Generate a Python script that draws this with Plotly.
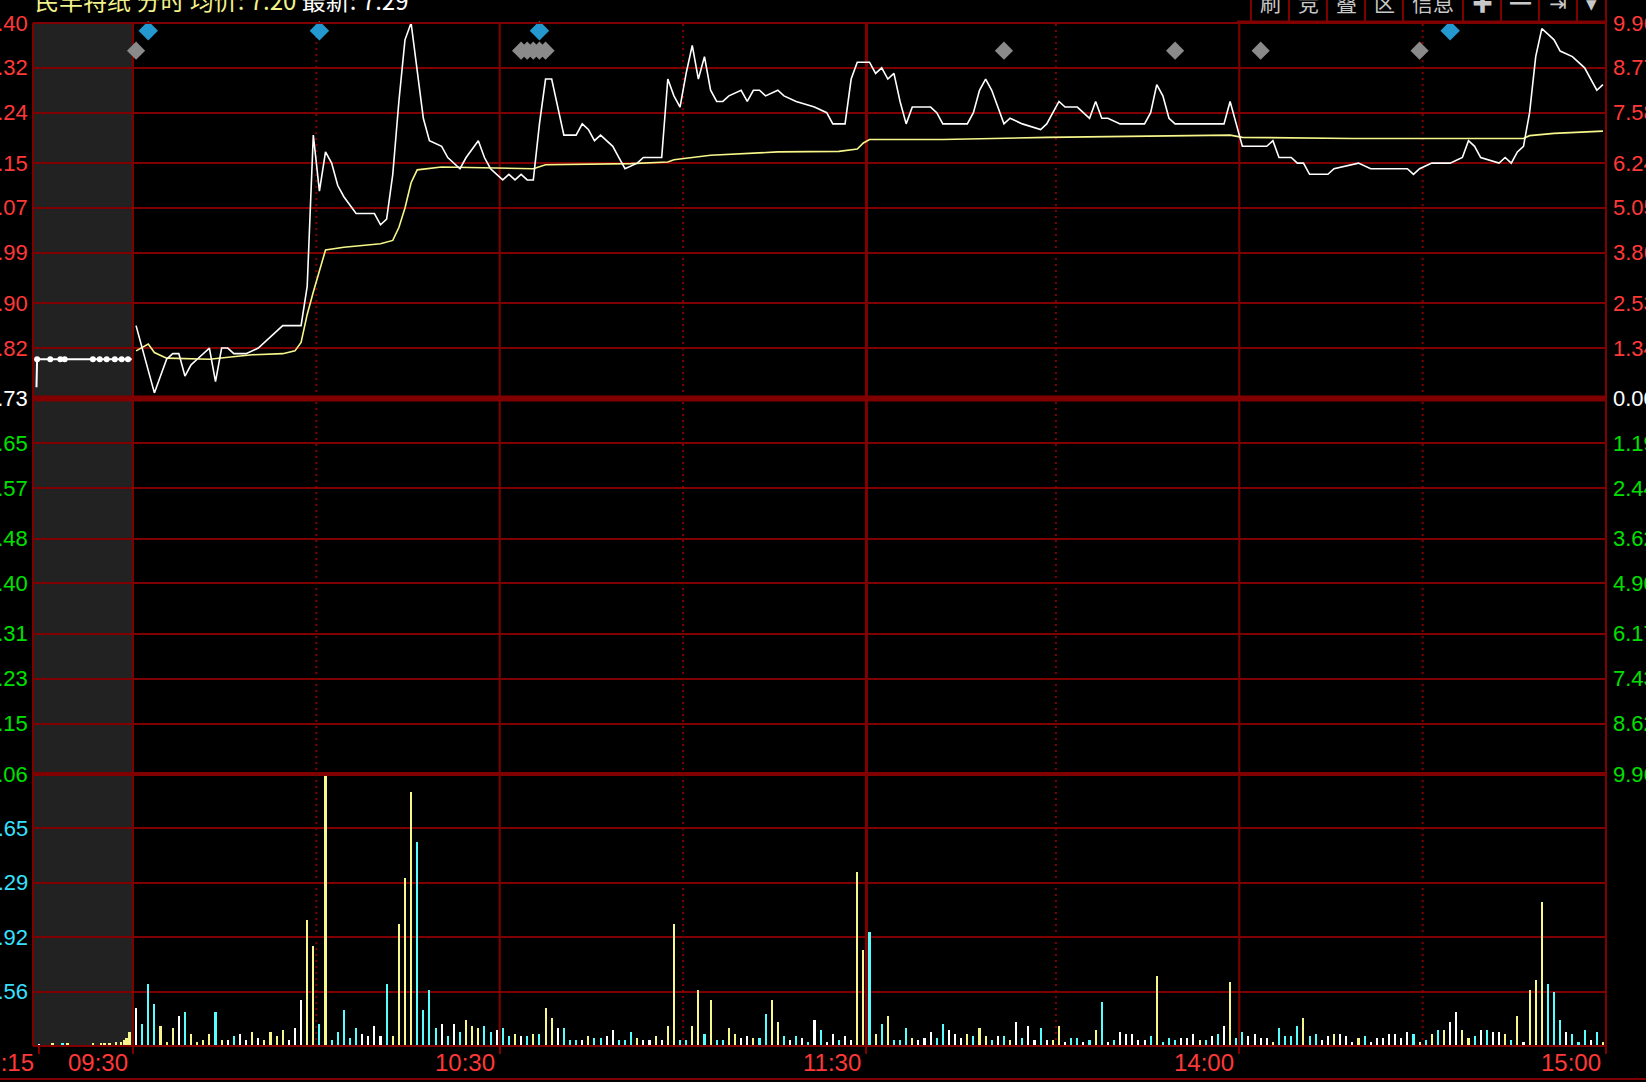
import plotly.graph_objects as go

# ---------------- data ----------------
stock_name = "民丰特纸"
view_name = "分时"
avg_price_text = "7.20"
last_price_text = "7.29"
prev_close = 6.73

price_ticks = [7.40, 7.32, 7.24, 7.15, 7.07, 6.99, 6.90, 6.82, 6.73,
               6.65, 6.57, 6.48, 6.40, 6.31, 6.23, 6.15, 6.06]
price_tick_labels = ["7.40", "7.32", "7.24", "7.15", "7.07", "6.99", "6.90", "6.82", "6.73",
                     "6.65", "6.57", "6.48", "6.40", "6.31", "6.23", "6.15", "6.06"]
pct_tick_labels = ["9.96%", "8.77%", "7.58%", "6.24%", "5.05%", "3.86%", "2.53%", "1.34%", "0.00%",
                   "1.19%", "2.44%", "3.62%", "4.90%", "6.17%", "7.43%", "8.62%", "9.96%"]

vol_range = [20, 17201]
vol_ticks = [3456, 6892, 10329, 13765]
vol_tick_labels = ["34.56", "68.92", "103.29", "137.65"]

time_ticks = ["09:15", "09:30", "10:30", "11:30", "14:00", "15:00"]
solid_lines = ["09:30", "10:30", "11:30", "14:00"]
dotted_lines = ["10:00", "11:00", "13:30", "14:30"]

# minute index (0 = 09:30 ... 240 = 15:00) and last price
price_idx = [0, 1, 2, 3, 4, 5, 6, 7, 8, 9, 10, 11, 12, 13, 14, 15, 16, 18, 20, 24, 27, 28, 29, 30,
             31, 32, 33, 34, 36, 39, 40, 41, 42, 43, 44, 45, 46, 47, 48, 50, 51, 53, 54, 56, 57, 58,
             60, 61, 62, 63, 64, 65, 66, 67, 68, 69, 70, 72, 73, 74, 75, 76, 78, 79, 80, 82, 83, 86,
             87, 88, 89, 90, 91, 92, 93, 94, 95, 96, 97, 99, 100, 101, 102, 103, 105, 106, 108, 111,
             113, 114, 116, 117, 118, 120, 121, 122, 123, 124, 125, 126, 127, 130, 131, 132, 136, 137,
             138, 139, 140, 141, 142, 143, 145, 148, 149, 151, 152, 154, 155, 156, 157, 158, 159, 161,
             165, 166, 167, 168, 169, 170, 178, 179, 180, 181, 185, 186, 187, 189, 190, 191, 192, 195,
             196, 200, 202, 208, 209, 210, 212, 215, 217, 218, 219, 220, 223, 224, 225, 226, 227, 228,
             229, 230, 231, 232, 233, 235, 237, 238, 239, 240]
price_val = [6.86, 6.82, 6.78, 6.74, 6.77, 6.80, 6.81, 6.81, 6.77, 6.79, 6.80, 6.81, 6.82, 6.76, 6.82,
             6.82, 6.81, 6.81, 6.82, 6.86, 6.86, 6.93, 7.20, 7.10, 7.17, 7.15, 7.11, 7.09, 7.06, 7.06,
             7.04, 7.05, 7.13, 7.26, 7.37, 7.40, 7.32, 7.23, 7.19, 7.18, 7.16, 7.14, 7.16, 7.19, 7.16,
             7.14, 7.12, 7.13, 7.12, 7.13, 7.12, 7.12, 7.22, 7.30, 7.30, 7.25, 7.20, 7.20, 7.22, 7.21,
             7.19, 7.20, 7.18, 7.16, 7.14, 7.15, 7.16, 7.16, 7.30, 7.27, 7.25, 7.31, 7.36, 7.30, 7.34,
             7.28, 7.26, 7.26, 7.27, 7.28, 7.26, 7.28, 7.28, 7.27, 7.28, 7.27, 7.26, 7.25, 7.24, 7.22,
             7.22, 7.30, 7.33, 7.33, 7.31, 7.32, 7.30, 7.31, 7.26, 7.22, 7.25, 7.25, 7.24, 7.22, 7.22,
             7.24, 7.28, 7.30, 7.28, 7.25, 7.22, 7.23, 7.22, 7.21, 7.22, 7.26, 7.25, 7.25, 7.24, 7.23,
             7.26, 7.23, 7.23, 7.22, 7.22, 7.24, 7.29, 7.27, 7.23, 7.22, 7.22, 7.26, 7.22, 7.18, 7.18,
             7.19, 7.16, 7.16, 7.15, 7.15, 7.13, 7.13, 7.14, 7.15, 7.14, 7.14, 7.13, 7.14, 7.15, 7.15,
             7.16, 7.19, 7.18, 7.16, 7.15, 7.16, 7.15, 7.17, 7.18, 7.24, 7.34, 7.39, 7.38, 7.37, 7.35,
             7.34, 7.32, 7.30, 7.28, 7.29]

avg_idx = [0, 2, 3, 5, 12, 19, 24, 26, 27, 28, 29, 30, 31, 34, 40, 42, 43, 44, 45, 46, 50, 65, 67,
           81, 87, 88, 94, 105, 115, 118, 119, 120, 132, 149, 167, 179, 181, 199, 227, 228, 232, 240]
avg_val = [6.815, 6.827, 6.812, 6.802, 6.800, 6.808, 6.810, 6.815, 6.830, 6.880, 6.920, 6.960, 6.995,
           7.000, 7.006, 7.012, 7.035, 7.070, 7.115, 7.138, 7.143, 7.140, 7.147, 7.149, 7.152, 7.156,
           7.164, 7.170, 7.171, 7.175, 7.186, 7.192, 7.192, 7.196, 7.198, 7.200, 7.196, 7.194, 7.194,
           7.199, 7.203, 7.207]

# per-minute volume (241 minutes) and trade side: B = active buy, S = active sell, N = neutral
volume = [
    2420, 1410, 3935, 2670, 1280, 270, 1155, 1915, 2170, 780,
    270, 400, 780, 2170, 400, 400, 650, 780, 400, 905,
    525, 400, 905, 650, 1030, 400, 1155, 2925, 7980, 6335,
    1410, 17200, 400, 905, 2295, 525, 1155, 780, 650, 1280,
    650, 3935, 650, 7725, 10635, 16065, 12905, 2295, 3560, 1155,
    1410, 650, 1410, 905, 1660, 1280, 1155, 1280, 905, 1030,
    1155, 650, 780, 650, 650, 780, 780, 2420, 1790, 1155,
    1155, 400, 400, 400, 650, 525, 525, 650, 1030, 400,
    400, 905, 525, 400, 400, 650, 400, 1280, 7725, 400,
    400, 1280, 3560, 780, 2925, 400, 400, 1155, 780, 525,
    650, 525, 525, 2040, 2925, 1535, 650, 400, 650, 525,
    270, 1660, 1030, 270, 780, 400, 650, 400, 11010, 6085,
    7220, 780, 1410, 1915, 400, 400, 1155, 525, 400, 525,
    905, 525, 1410, 1030, 780, 525, 780, 650, 1155, 650,
    400, 650, 650, 400, 1535, 525, 1280, 400, 1155, 400,
    400, 1280, 270, 525, 525, 270, 400, 1030, 2800, 270,
    400, 905, 780, 780, 400, 400, 650, 4440, 270, 525,
    400, 525, 525, 780, 400, 400, 650, 780, 1280, 4065,
    525, 905, 650, 780, 525, 525, 270, 1155, 650, 650,
    1280, 1790, 650, 780, 400, 650, 780, 780, 650, 270,
    525, 650, 270, 525, 525, 780, 780, 525, 905, 780,
    270, 400, 780, 1030, 1030, 1535, 2170, 1030, 525, 650,
    1030, 1030, 905, 905, 780, 400, 1915, 270, 3560, 4190,
    9115, 3935, 3430, 1660, 905, 780, 270, 1030, 400, 905,
    270]
side = list(
    "NSSSBBBNSB" "BBBSBNSNNB" "NBBBBNNNBB" "SBSSSSSNNN" "NSBBBBSSSS"
    "NSNSBBBSSN" "SSBNSBSBBN" "SSSNBSSNNS" "SSBNNBNBBS" "SBBSBSSBBN"
    "NBSSBBSNSN" "SNSNNSNNBB"
    "SBSBSSSBNN" "NSSNNNBSBB" "SNSBNSNNSN" "BBNSSNSBSN" "SNNNNNSBSS"
    "SNNNBSNSNB" "SSNNNNBSSS" "SBSSNNBNNN" "BSNNNNNNNS" "BSBSBNNBBS"
    "NSNNBSBNBB" "BSSSNSSSNS" "B")

# call-auction period (minutes relative to 09:30)
pre_bar_min = [-15.0, -12.9, -11.3, -10.5, -6.4, -5.1, -4.5, -3.7, -2.7, -1.9, -1.4, -1.0, -0.5]
pre_bar_vol = [146, 210, 210, 210, 210, 210, 210, 210, 270, 270, 400, 525, 905]
pre_bar_side = list("NBSBBBBBBBBBB")
pre_line_min = [-15.4, -15.3, -0.2]
pre_line_val = [6.75, 6.80, 6.80]
pre_mark_min = [-15.3, -13.2, -11.6, -10.9, -6.4, -5.3, -4.2, -2.9, -1.8, -0.8]
pre_mark_val = [6.80] * 10

# event markers (minute index)
event_blue_idx = [2, 30, 66, 215]
event_gray_idx = [0, 63, 64, 65, 66, 67, 142, 170, 184, 210]

toolbar_labels = ["刷", "竞", "叠", "区", "信息", "✚", "━", "⇥", "▾"]

# ---------------- style / layout helpers ----------------
W, H = 1646, 1082
PX_L, PX_R = 33, 1606
PX_TOP, PX_VTOP, PX_BOT = 23, 774, 1046
PRE_UNITS_PER_MIN = 1.0254
X_MIN, X_MAX = -16.86, 240.5

GRID = "#800000"
RED = "#ff3838"
GREEN = "#00e000"
CYAN = "#38e0ff"
side_colors = {"B": "#f6f68a", "S": "#55ffff", "N": "#ffffff"}
LBL_FONT = "Liberation Sans, Arial, sans-serif"


def px_x(p):
    return p / W


def px_y(p):
    return 1 - p / H


def time_to_x(t):
    h, m = map(int, t.split(":"))
    mins = h * 60 + m
    if mins <= 570:
        return -0.5 + (mins - 570) * PRE_UNITS_PER_MIN
    if mins <= 690:
        return -0.5 + (mins - 570)
    return 120.5 + (mins - 780)


def pre_x(m):
    return -0.5 + m * PRE_UNITS_PER_MIN


fig = go.Figure()

# volume bars
fig.add_trace(go.Bar(x=list(range(len(volume))), y=volume, width=0.34,
                     marker=dict(color=[side_colors[s] for s in side], line=dict(width=0)),
                     xaxis="x", yaxis="y2", hoverinfo="skip", showlegend=False))
fig.add_trace(go.Bar(x=[pre_x(m) for m in pre_bar_min], y=pre_bar_vol, width=0.45,
                     marker=dict(color=[side_colors[s] for s in pre_bar_side], line=dict(width=0)),
                     xaxis="x", yaxis="y2", hoverinfo="skip", showlegend=False))

# price lines
fig.add_trace(go.Scatter(x=avg_idx, y=avg_val, mode="lines", line=dict(color="#f6f68a", width=1.6),
                         xaxis="x", yaxis="y", hoverinfo="skip", showlegend=False))
fig.add_trace(go.Scatter(x=price_idx, y=price_val, mode="lines", line=dict(color="#ffffff", width=1.6),
                         xaxis="x", yaxis="y", hoverinfo="skip", showlegend=False))
fig.add_trace(go.Scatter(x=[pre_x(m) for m in pre_line_min], y=pre_line_val, mode="lines",
                         line=dict(color="#ffffff", width=2),
                         xaxis="x", yaxis="y", hoverinfo="skip", showlegend=False))
fig.add_trace(go.Scatter(x=[pre_x(m) for m in pre_mark_min], y=pre_mark_val, mode="markers",
                         marker=dict(color="#ffffff", size=6, symbol="circle"),
                         xaxis="x", yaxis="y", hoverinfo="skip", showlegend=False))

# event diamonds (overlay axis 0..1 inside price panel)
row_blue = 1 - (30.7 - PX_TOP) / (PX_VTOP - PX_TOP)
row_gray = 1 - (50.7 - PX_TOP) / (PX_VTOP - PX_TOP)
fig.add_trace(go.Scatter(x=event_gray_idx, y=[row_gray] * len(event_gray_idx), mode="markers",
                         marker=dict(symbol="diamond", size=14, color="#8a8a8a"), cliponaxis=False,
                         xaxis="x", yaxis="y3", hoverinfo="skip", showlegend=False))
fig.add_trace(go.Scatter(x=event_blue_idx, y=[row_blue] * len(event_blue_idx), mode="markers",
                         marker=dict(symbol="diamond", size=15, color="#2399cf"), cliponaxis=False,
                         xaxis="x", yaxis="y3", hoverinfo="skip", showlegend=False))

shapes = []
# call-auction background
shapes.append(dict(type="rect", xref="x", yref="paper", x0=X_MIN, x1=-0.5,
                   y0=px_y(PX_BOT), y1=px_y(PX_TOP), fillcolor="#222222", line=dict(width=0),
                   layer="below"))
# vertical time lines
for t in solid_lines:
    shapes.append(dict(type="line", xref="x", yref="paper", x0=time_to_x(t), x1=time_to_x(t),
                       y0=px_y(PX_BOT), y1=px_y(PX_TOP),
                       line=dict(color=GRID, width=3 if t == "11:30" else 2), layer="below"))
for t in dotted_lines:
    shapes.append(dict(type="line", xref="x", yref="paper", x0=time_to_x(t), x1=time_to_x(t),
                       y0=px_y(PX_BOT), y1=px_y(PX_TOP),
                       line=dict(color=GRID, width=2, dash="2px,4px"), layer="below"))
# frame
frame = [
    (PX_L, PX_TOP, PX_R, PX_TOP, 2),
    (PX_L, PX_TOP, PX_L, PX_BOT, 2),
    (PX_R, 0, PX_R, 1053, 2),
    (PX_L, PX_BOT, PX_R, PX_BOT, 2),
    (0, 1079, W, 1079, 2),
    (PX_L, PX_VTOP, PX_R, PX_VTOP, 4),
    (1237, 22, PX_R, 22, 3),
]
for x0, y0, x1, y1, w in frame:
    shapes.append(dict(type="line", xref="paper", yref="paper", x0=px_x(x0), x1=px_x(x1),
                       y0=px_y(y0), y1=px_y(y1), line=dict(color=GRID, width=w), layer="above"))
# zero (prev close) line
shapes.append(dict(type="line", xref="paper", yref="y", x0=px_x(PX_L), x1=px_x(PX_R),
                   y0=prev_close, y1=prev_close, line=dict(color=GRID, width=6), layer="below"))
# toolbar separators
tb_edges = [1251, 1289, 1327, 1365, 1403, 1463, 1501, 1539, 1577, 1606]
for xe in tb_edges[:-1]:
    shapes.append(dict(type="line", xref="paper", yref="paper", x0=px_x(xe), x1=px_x(xe),
                       y0=px_y(0), y1=px_y(23), line=dict(color=GRID, width=2), layer="above"))

annotations = []
# price labels left / percent labels right
for p, lab, pct in zip(price_ticks, price_tick_labels, pct_tick_labels):
    col = RED if p > prev_close + 1e-9 else ("#ffffff" if abs(p - prev_close) < 1e-9 else GREEN)
    annotations.append(dict(x=px_x(30), y=p, xref="paper", yref="y", text=lab, showarrow=False,
                            xanchor="right", yanchor="middle",
                            font=dict(family=LBL_FONT, size=22, color=col)))
    annotations.append(dict(x=px_x(1611), y=p, xref="paper", yref="y", text=pct, showarrow=False,
                            xanchor="left", yanchor="middle",
                            font=dict(family=LBL_FONT, size=22, color=col)))
for v, lab in zip(vol_ticks, vol_tick_labels):
    annotations.append(dict(x=px_x(30), y=v, xref="paper", yref="y2", text=lab, showarrow=False,
                            xanchor="right", yanchor="middle",
                            font=dict(family=LBL_FONT, size=22, color=CYAN)))
# time labels
tick_x = [time_to_x(t) for t in time_ticks]
for t, xv in zip(time_ticks, tick_x):
    annotations.append(dict(x=xv, y=px_y(1062), xref="x", yref="paper", text=t, showarrow=False,
                            xanchor="right", yanchor="middle", xshift=-3,
                            font=dict(family=LBL_FONT, size=24, color=RED)))
# header
header = (f"<span style='color:#f2f28a'>{stock_name} {view_name} 均价: {avg_price_text}</span>"
          f" <span style='color:#ffffff'>最新: {last_price_text}</span>")
annotations.append(dict(x=px_x(33), y=px_y(-1), xref="paper", yref="paper", text=header,
                        showarrow=False, xanchor="left", yanchor="middle",
                        font=dict(family="Noto Sans CJK SC", size=24)))
# toolbar
for lab, a, b in zip(toolbar_labels, tb_edges[:-1], tb_edges[1:]):
    annotations.append(dict(x=px_x((a + b) / 2), y=px_y(2), xref="paper", yref="paper", text=lab,
                            showarrow=False, xanchor="center", yanchor="middle",
                            font=dict(family="Noto Sans CJK SC, DejaVu Sans", size=21, color="#c8c8c8")))

fig.update_layout(
    width=W, height=H, margin=dict(l=0, r=0, t=0, b=0),
    paper_bgcolor="#000000", plot_bgcolor="#000000",
    bargap=0, showlegend=False,
    xaxis=dict(domain=[px_x(PX_L), px_x(PX_R)], range=[X_MIN, X_MAX], anchor="y2",
               showgrid=False, zeroline=False, showline=False, showticklabels=False,
               ticks="outside", tickvals=tick_x, ticklen=7, tickwidth=2, tickcolor=GRID,
               fixedrange=True),
    yaxis=dict(domain=[px_y(PX_VTOP), px_y(PX_TOP)], range=[price_ticks[-1], price_ticks[0]],
               tickvals=price_ticks, showgrid=True, gridcolor=GRID, gridwidth=2,
               showticklabels=False, zeroline=False, showline=False, fixedrange=True),
    yaxis2=dict(domain=[px_y(PX_BOT), px_y(PX_VTOP)], range=vol_range, tickvals=vol_ticks,
                showgrid=True, gridcolor=GRID, gridwidth=2, showticklabels=False,
                zeroline=False, showline=False, fixedrange=True),
    yaxis3=dict(overlaying="y", range=[0, 1], visible=False, fixedrange=True),
    shapes=shapes, annotations=annotations,
)

fig.write_html("out.html", config={"displayModeBar": False},
               post_script="document.body.style.margin='0';document.body.style.background='#000';")
